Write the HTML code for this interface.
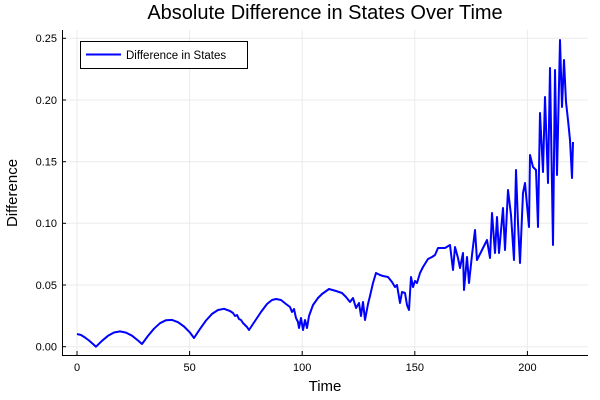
<!DOCTYPE html>
<html><head><style>
body{margin:0;background:#fff;}
svg{display:block;font-family:"Liberation Sans",sans-serif;}
</style></head><body>
<svg width="600" height="400" xmlns="http://www.w3.org/2000/svg">
<rect width="600" height="400" fill="#fff"/>
<g stroke="#ebebeb" stroke-width="1">
<line x1="77" y1="30" x2="77" y2="355"/><line x1="189.6" y1="30" x2="189.6" y2="355"/><line x1="302.2" y1="30" x2="302.2" y2="355"/><line x1="414.8" y1="30" x2="414.8" y2="355"/><line x1="527.4" y1="30" x2="527.4" y2="355"/>
<line x1="62" y1="346.7" x2="588" y2="346.7"/><line x1="62" y1="285" x2="588" y2="285"/><line x1="62" y1="223.3" x2="588" y2="223.3"/><line x1="62" y1="161.7" x2="588" y2="161.7"/><line x1="62" y1="100" x2="588" y2="100"/><line x1="62" y1="38.3" x2="588" y2="38.3"/>
</g>
<g stroke="#000" stroke-width="1">
<line x1="62" y1="355.5" x2="588" y2="355.5"/><line x1="62.5" y1="30" x2="62.5" y2="356"/>
<line x1="77" y1="355" x2="77" y2="351"/><line x1="189.6" y1="355" x2="189.6" y2="351"/><line x1="302.2" y1="355" x2="302.2" y2="351"/><line x1="414.8" y1="355" x2="414.8" y2="351"/><line x1="527.4" y1="355" x2="527.4" y2="351"/>
<line x1="62" y1="346.7" x2="66" y2="346.7"/><line x1="62" y1="285" x2="66" y2="285"/><line x1="62" y1="223.3" x2="66" y2="223.3"/><line x1="62" y1="161.7" x2="66" y2="161.7"/><line x1="62" y1="100" x2="66" y2="100"/><line x1="62" y1="38.3" x2="66" y2="38.3"/>
</g>
<g font-size="11" fill="#000" text-anchor="middle">
<text x="77" y="371">0</text><text x="189.6" y="371">50</text><text x="302.2" y="371">100</text><text x="414.8" y="371">150</text><text x="527.4" y="371">200</text>
</g>
<g font-size="11" fill="#000" text-anchor="end">
<text x="57" y="350.5">0.00</text><text x="57" y="289">0.05</text><text x="57" y="227">0.10</text><text x="57" y="165.5">0.15</text><text x="57" y="104">0.20</text><text x="57" y="42">0.25</text>
</g>
<text x="325" y="391" font-size="15" text-anchor="middle">Time</text>
<text transform="translate(17,193) rotate(-90)" font-size="15" text-anchor="middle">Difference</text>
<text x="325" y="19" font-size="20" text-anchor="middle">Absolute Difference in States Over Time</text>
<polyline fill="none" stroke="#0000ff" stroke-width="2" stroke-linejoin="round" points="77,334 81,335 85,337.5 89,340.5 93,344 96,346.7 102,340.8 108,335.8 114,332.5 120,331.4 126,332.6 132,335.7 138,340.5 142,344 148,335.9 154,328.7 160,323.2 166,320.2 172,319.9 178,322.2 184,326.5 190,332.6 194,338 200,328.9 206,320.5 212,313.9 218,310 224,308.8 230,311 233,313 235,316 237,315 239,319 241,320 243,323 245,325 247,327 249,330 255,321 261,312 267,304 272,300 276,299 281,300 286,304 290,307 292,312 294,309 296,318 298,322 299,328 301,318 303,330 305,320 307,328 309,316 313,305 318,298 322,294 329,289 336,291 342,293 346,297 350,302 353,298 356,308 359,303 361,316 363,302 365,320 368,304 370,296 373,283 376,273 380,275 383,276 388,277 392,282 395,287 397,285 400,303 402,292 405,293 407,305 409,310 411,277 413,287 415,281 417,283 420,273 423,267 428,259 432,257 435,255 438,248 445,248 450,245 453,270 455,247 458,258 460,268 463,253 464,290 467,257 469,283 472,255 475,230 477,260 482,250 487,240 490,258 492,213 495,253 497,217 499,253 503,208 505,250 508,190 511,215 514,260 516,170 518,223 520,263 523,193 525,183 529,227 530,155 533,167 536,170 538,227 540,113 543,172 545,97 548,183 550,68 553,245 555,70 557,175 560,40 562,107 564,60 566,102 568,120 570,140 572,178 573,142"/>
<rect x="80.5" y="41.5" width="167" height="27" fill="#fff" stroke="#000" stroke-width="1"/>
<line x1="86" y1="54.5" x2="121" y2="54.5" stroke="#0000ff" stroke-width="2"/>
<text x="126" y="59" font-size="11.5" fill="#000">Difference in States</text>
</svg>
</body></html>
